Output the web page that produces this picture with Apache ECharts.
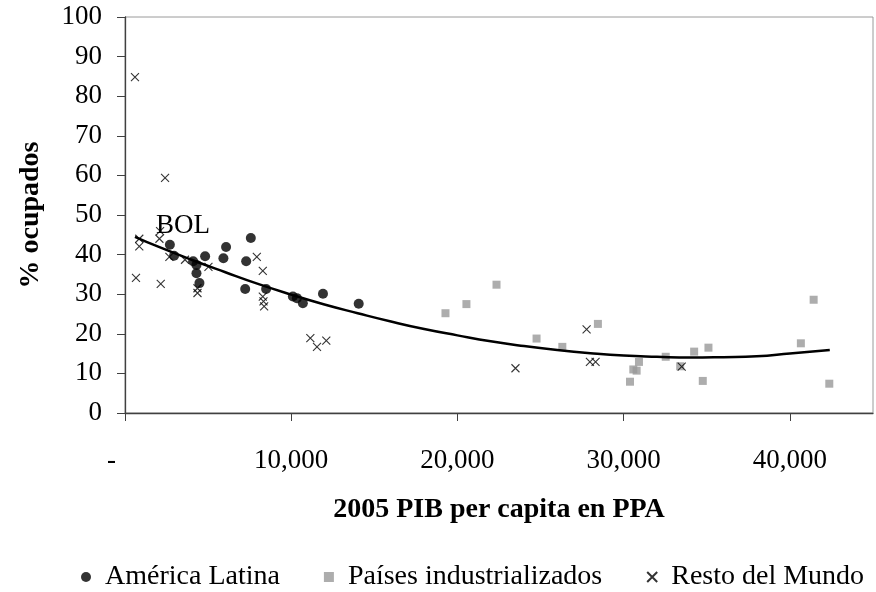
<!DOCTYPE html>
<html>
<head>
<meta charset="utf-8">
<script src="https://cdn.jsdelivr.net/npm/echarts@6/dist/echarts.min.js"></script>
<style>
html,body{margin:0;padding:0;background:#fff;}
#chart{width:876px;height:592px;}
</style>
</head>
<body>
<div id="chart"></div>
<script>
// ---- data ----
const seriesNames = ['América Latina', 'Países industrializados', 'Resto del Mundo'];

// América Latina: [PIB per capita, % ocupados]
const latamX = [2700, 2950, 4100, 4300, 4300, 4480, 4820, 5920, 6080, 7290, 7570, 7230, 8490, 10100, 10340, 10700, 11910, 14060];
const latamY = [42.5, 39.7, 38.3, 37.4, 35.3, 32.8, 39.6, 39.1, 41.9, 38.3, 44.2, 31.3, 31.3, 29.4, 29.0, 27.7, 30.1, 27.6];
const latamLabels = ['BOL', '', '', '', '', '', '', '', '', '', '', '', '', '', '', '', '', ''];

// Países industrializados
const indX = [19280, 20540, 22350, 24760, 26310, 28450, 30380, 30580, 30780, 30920, 32530, 33400, 34240, 34760, 35100, 40660, 41430, 42370];
const indY = [25.2, 27.5, 32.4, 18.8, 16.7, 22.5, 7.9, 11.0, 10.7, 12.9, 14.2, 11.8, 15.5, 8.1, 16.5, 17.6, 28.6, 7.4];

// Resto del Mundo
const restX = [600, 2410, 860, 860, 660, 2110, 2070, 2150, 2670, 3610, 5020, 4360, 4360, 7930, 8290, 8290, 8330, 8370, 11150, 11550, 12110, 23490, 27770, 27970, 28310, 33490];
const restY = [84.8, 59.4, 44.0, 42.1, 34.1, 45.9, 44.0, 32.6, 39.4, 38.7, 36.9, 30.3, 31.5, 39.4, 35.9, 29.4, 28.2, 26.9, 18.9, 16.7, 18.3, 11.3, 21.1, 12.9, 12.9, 11.7];

// Trend line
const trendX = [600, 2000, 4000, 6000, 8000, 10000, 12000, 14000, 16000, 18000, 20000, 22000, 24000, 26000, 28000, 30000, 32000, 34000, 36000, 38000, 40000, 42400];
const trendY = [44.5, 42.0, 38.7, 35.6, 32.6, 29.9, 27.4, 25.2, 23.1, 21.2, 19.6, 18.1, 16.9, 15.9, 15.1, 14.5, 14.2, 14.0, 14.1, 14.3, 15.0, 15.9];

// Axis ticks
const xTickValues = [0, 10000, 20000, 30000, 40000];
const xTickLabels = ['-    ', '10,000', '20,000', '30,000', '40,000'];
const yTickValues = [0, 10, 20, 30, 40, 50, 60, 70, 80, 90, 100];

const xTitle = '2005 PIB per capita en PPA';
const yTitle = '% ocupados';

// ---- build ----
const FONT = '"Liberation Serif", "Times New Roman", serif';
const zip = (xs, ys) => xs.map((x, i) => [x, ys[i]]);
const crossPath = 'path://M0,0L10,10M10,0L0,10';

const latamData = latamX.map((x, i) => {
  const d = { value: [x, latamY[i]] };
  if (latamLabels[i]) {
    d.label = {
      show: true, formatter: latamLabels[i], position: 'top', distance: 0, offset: [13, 0],
      fontFamily: FONT, fontSize: 27, color: '#000', textBorderWidth: 0, opacity: 1
    };
  }
  return d;
});

const chart = echarts.init(document.getElementById('chart'), null, { renderer: 'canvas' });
chart.setOption({
  animation: false,
  backgroundColor: '#fff',
  textStyle: { fontFamily: FONT, color: '#000' },
  grid: {
    left: 125, right: 3, top: 17, bottom: 179,
    show: true, borderColor: '#9a9a9a', borderWidth: 1
  },
  xAxis: {
    type: 'value', min: 0, max: 45000,
    splitLine: { show: false },
    axisLine: { show: true, onZero: false, lineStyle: { color: '#404040', width: 1.3 } },
    axisTick: { show: true, length: 8, customValues: xTickValues, lineStyle: { color: '#404040', width: 1 } },
    axisLabel: {
      customValues: xTickValues,
      fontFamily: FONT, fontSize: 27, color: '#000', margin: 34,
      formatter: v => { const i = xTickValues.indexOf(v); return i >= 0 ? xTickLabels[i] : ''; }
    },
    name: xTitle, nameLocation: 'middle', nameGap: 83,
    nameTextStyle: { fontFamily: FONT, fontSize: 28, fontWeight: 'bold', color: '#000' }
  },
  yAxis: {
    type: 'value', min: 0, max: 100, interval: 10,
    splitLine: { show: false },
    axisLine: { show: true, onZero: false, lineStyle: { color: '#404040', width: 1.3 } },
    axisTick: { show: true, length: 8, customValues: yTickValues, lineStyle: { color: '#404040', width: 1 } },
    axisLabel: {
      customValues: yTickValues,
      fontFamily: FONT, fontSize: 27, color: '#000', margin: 23, padding: [5, 0, 0, 0]
    },
    name: yTitle, nameLocation: 'middle', nameGap: 80, nameRotate: 90,
    nameTextStyle: { fontFamily: FONT, fontSize: 28, fontWeight: 'bold', color: '#000' }
  },
  legend: {
    data: seriesNames,
    left: 76, top: 558,
    itemGap: 44, itemWidth: 10, itemHeight: 10,
    textStyle: { fontFamily: FONT, fontSize: 28, color: '#000', padding: [0, 0, 0, 9] }
  },
  series: [
    {
      name: seriesNames[0], type: 'scatter', symbol: 'circle', symbolSize: 10,
      itemStyle: { color: '#000' },
      data: latamData, z: 3
    },
    {
      name: seriesNames[1], type: 'scatter', symbol: 'rect', symbolSize: 8,
      itemStyle: { color: '#999999' },
      data: zip(indX, indY), z: 2
    },
    {
      name: seriesNames[2], type: 'scatter', symbol: crossPath, symbolSize: 8,
      itemStyle: { color: 'rgba(0,0,0,0)', borderColor: '#000', borderWidth: 1.1 },
      data: zip(restX, restY), z: 4
    },
    {
      name: 'Tendencia', type: 'line', showSymbol: false, symbol: 'none', smooth: true,
      lineStyle: { color: '#000', width: 2.5 },
      data: zip(trendX, trendY), z: 5, silent: true
    }
  ]
});
</script>
</body>
</html>
